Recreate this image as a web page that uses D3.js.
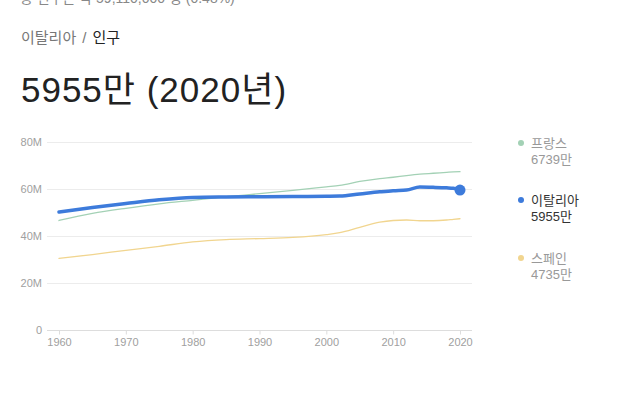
<!DOCTYPE html>
<html><head><meta charset="utf-8">
<script src="https://cdn.jsdelivr.net/npm/d3@7"></script>
<style>
body{margin:0;background:#fff;font-family:"Liberation Sans",Arial,"Noto Sans CJK KR",sans-serif;}
</style></head><body>
<svg id="c" width="640" height="395"></svg>
<script>
const years = [1960,1965,1970,1975,1980,1985,1990,1995,2000,2002,2005,2008,2010,2012,2014,2016,2018,2019,2020];
const france = [46.6,49.6,51.8,53.7,55.2,56.7,58.0,59.4,60.9,61.5,63.2,64.4,65.0,65.7,66.3,66.7,67.1,67.3,67.4];
const italy  = [50.2,52.1,53.8,55.4,56.4,56.6,56.7,56.8,56.9,57.0,57.9,58.8,59.3,59.6,60.8,60.7,60.5,60.3,59.55];
const spain  = [30.5,32.1,33.9,35.6,37.5,38.5,38.9,39.4,40.6,41.4,43.7,45.9,46.6,46.8,46.5,46.5,46.8,47.1,47.35];
const yTicks = [0,20,40,60,80];
const yTickLabels = ["0","20M","40M","60M","80M"];
const xTicks = [1960,1970,1980,1990,2000,2010,2020];
const seriesNames = ["프랑스","이탈리아","스페인"];
const seriesLatest = ["6739만","5955만","4735만"];
const seriesColors = ["#a3d1b5","#3d7bdb","#f1d58f"];

const svg = d3.select("#c");
const font = '"Liberation Sans",Arial,"Noto Sans CJK KR",sans-serif';

function fitWidth(sel, w){
  const n = sel.text().length;
  const cur = sel.node().getComputedTextLength();
  if (n>1) sel.attr("letter-spacing", ((w-cur)/(n-1)).toFixed(2));
}

// cropped header line (also cropped in the reference)
svg.append("text").attr("x",20).attr("y",3).attr("font-size",14).attr("fill","#888")
  .attr("font-family",font).text("총 인구는 약 59,110,000 명 (0.48%)");

// breadcrumb
const bc = svg.append("text").attr("x",21).attr("y",43).attr("font-size",15).attr("font-family",font);
bc.append("tspan").attr("fill","#777").text("이탈리아");
bc.append("tspan").attr("fill","#777").attr("dx",6).text("/");
bc.append("tspan").attr("fill","#222").attr("dx",6).text("인구");

// title
const title = svg.append("text").attr("x",21).attr("y",102).attr("font-size",35).attr("fill","#222")
  .attr("font-family",font).text("5955만 (2020년)");
fitWidth(title, 265);

const x = d3.scaleLinear().domain([1960,2020]).range([59,460]);
const y = d3.scaleLinear().domain([0,80]).range([330,142]);

// grid
const g = svg.append("g");
g.selectAll("line.grid").data(yTicks).join("line")
  .attr("x1",47).attr("x2",472).attr("y1",d=>y(d)+0.5).attr("y2",d=>y(d)+0.5)
  .attr("stroke",d=>d===0?"#ddd":"#ececec").attr("stroke-width",1);
g.selectAll("text.yl").data(yTicks).join("text")
  .attr("x",42).attr("y",d=>y(d)+4).attr("text-anchor","end")
  .attr("font-size",11).attr("fill","#a0a0a0").attr("font-family",font)
  .text((d,i)=>yTickLabels[i]);

// x axis
const xAxis = d3.axisBottom(x).tickValues(xTicks).tickFormat(d3.format("d")).tickSize(4).tickPadding(4);
const xa = svg.append("g").attr("transform","translate(0,330.5)").call(xAxis);
xa.select(".domain").remove();
xa.selectAll(".tick line").attr("stroke","#ddd");
xa.selectAll(".tick text").attr("fill","#a0a0a0").attr("font-size",11).attr("font-family",font);

const line = d3.line().curve(d3.curveMonotoneX).x((d,i)=>x(years[i])).y(d=>y(d));
const data = [france, italy, spain];
const widths = [1.3,3.5,1.3];
[0,2,1].forEach(k=>{
  svg.append("path").datum(data[k]).attr("d",line).attr("fill","none")
    .attr("stroke",seriesColors[k]).attr("stroke-width",widths[k])
    .attr("stroke-linejoin","round").attr("stroke-linecap","round");
});
svg.append("circle").attr("cx",x(2020)).attr("cy",y(italy[italy.length-1])).attr("r",5.5)
  .attr("fill",seriesColors[1]);

// legend
const legY = [143,200,258];
seriesNames.forEach((n,i)=>{
  const lg = svg.append("g").attr("transform",`translate(0,${legY[i]})`);
  lg.append("circle").attr("cx",521).attr("cy",0).attr("r",3).attr("fill",seriesColors[i]);
  lg.append("text").attr("x",531).attr("y",5).attr("font-size",13).attr("font-family",font)
    .attr("fill",i===1?"#333":"#999").text(n);
  lg.append("text").attr("x",531).attr("y",21).attr("font-size",13).attr("font-family",font)
    .attr("fill",i===1?"#333":"#999").text(seriesLatest[i]);
});
</script></body></html>
